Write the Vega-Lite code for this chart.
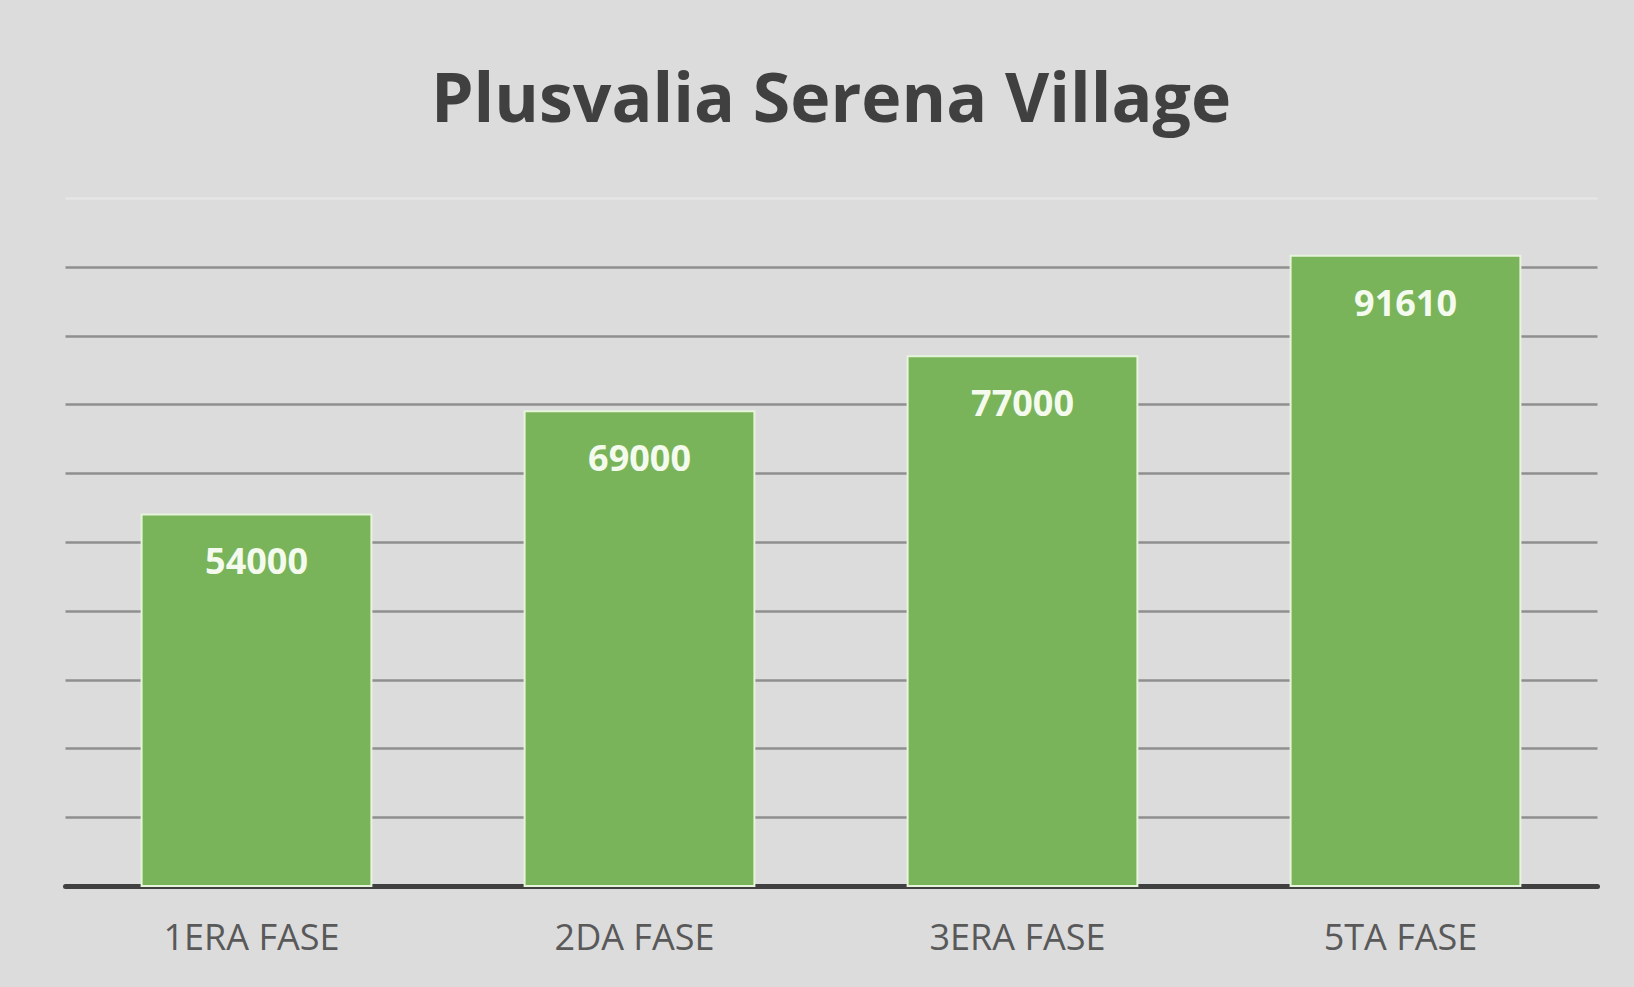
{
  "$schema": "https://vega.github.io/schema/vega-lite/v6.json",
  "autosize": {"type": "none"},
  "width": 1532,
  "height": 688,
  "padding": {"left": 65, "top": 198, "right": 37, "bottom": 101},
  "background": "#dcdcdc",
  "title": {
    "text": "Plusvalia Serena Village",
    "font": "Open Sans",
    "fontWeight": "bold",
    "fontSize": 68,
    "color": "#404040",
    "anchor": "middle",
    "offset": 62
  },
  "config": {
    "view": {"stroke": null},
    "font": "Open Sans"
  },
  "data": {
    "values": [
      {"fase": "1ERA FASE", "valor": 54000},
      {"fase": "2DA FASE", "valor": 69000},
      {"fase": "3ERA FASE", "valor": 77000},
      {"fase": "5TA FASE", "valor": 91610}
    ]
  },
  "encoding": {
    "x": {
      "field": "fase",
      "type": "nominal",
      "sort": null,
      "scale": {"paddingInner": 0.4, "paddingOuter": 0.2},
      "axis": {
        "title": null,
        "labelAngle": 0,
        "labelFont": "Open Sans",
        "labelFontSize": 36,
        "labelColor": "#595959",
        "labelPadding": 35,
        "labelOffset": -5,
        "ticks": false,
        "tickSize": 0,
        "domainColor": "#404040",
        "domainWidth": 5,
        "domainCap": "round"
      }
    },
    "y": {
      "field": "valor",
      "type": "quantitative",
      "scale": {"domain": [0, 100000], "nice": false},
      "axis": {
        "title": null,
        "labels": false,
        "ticks": false,
        "domain": false,
        "values": [10000, 20000, 30000, 40000, 50000, 60000, 70000, 80000, 90000, 100000],
        "grid": true,
        "gridColor": {"condition": {"test": "datum.value == 100000", "value": "#e6e6e6"}, "value": "#8f8f8f"},
        "gridWidth": 2.5
      }
    }
  },
  "layer": [
    {
      "mark": {"type": "bar", "color": "#7ab45a", "stroke": "#e6f4dc", "strokeWidth": 2}
    },
    {
      "mark": {
        "type": "text",
        "baseline": "middle",
        "align": "center",
        "dy": 49,
        "font": "Open Sans",
        "fontWeight": "bold",
        "fontSize": 36,
        "color": "#f4fbee"
      },
      "encoding": {"text": {"field": "valor", "type": "quantitative", "format": "d"}}
    }
  ]
}
